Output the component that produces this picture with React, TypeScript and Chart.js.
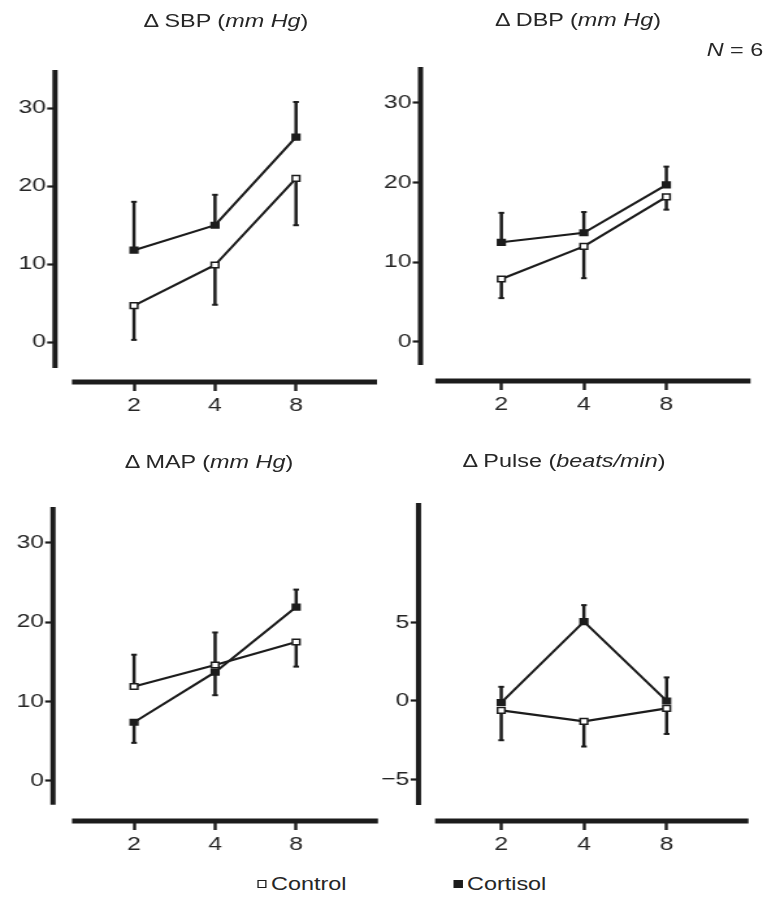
import { useEffect, useRef } from 'react';
import { Chart, registerables } from 'chart.js';

Chart.register(...registerables);

// ---------- data ----------
const doseLabels = ['2', '4', '8'];
const bpTicks = [0, 10, 20, 30];
const pulseTicks = [-5, 0, 5];
const seriesNames = ['Control', 'Cortisol'];

const sbpControl = [4.7, 9.9, 21.0];
const sbpControlErr = [0.3, 4.8, 15.0];
const sbpCortisol = [11.8, 15.0, 26.3];
const sbpCortisolErr = [18.0, 18.9, 30.8];

const dbpControl = [7.9, 12.0, 18.2];
const dbpControlErr = [5.5, 8.0, 16.6];
const dbpCortisol = [12.5, 13.7, 19.7];
const dbpCortisolErr = [16.2, 16.3, 22.0];

const mapControl = [11.9, 14.6, 17.5];
const mapControlErr = [15.9, 18.7, 14.4];
const mapCortisol = [7.4, 13.7, 21.9];
const mapCortisolErr = [4.8, 10.8, 24.1];

const pulseControl = [-0.6, -1.3, -0.47];
const pulseControlErr = [-2.5, -2.9, -2.1];
const pulseCortisol = [-0.1, 5.05, 0.0];
const pulseCortisolErr = [0.9, 6.1, 1.5];

// ---------- style / layout ----------
const SX = 1.3; // horizontal stretch of the whole figure
const INK = '#1c1c1c';
const TEXT = '#262626';
const FONT = '"Liberation Sans", Arial, Helvetica, sans-serif';
const TICK_SIZE = 19;
const XH = 42;

type Layout = {
  box: { x: number; y: number; w: number; h: number };
  axisX: number; plotTop: number; plotBottom: number; plotRight: number;
  xMin: number; xMax: number; xLine: number;
  yMin: number; yMax: number; yLine: number;
  titleX: number; titleY: number;
};

type Panel = {
  key: string; title: string; unit: string; ticks: number[];
  control: number[]; controlErr: number[]; cortisol: number[]; cortisolErr: number[];
  layout: Layout;
};

const panels: Panel[] = [
  {
    key: 'sbp', title: 'Δ SBP', unit: 'mm Hg', ticks: bpTicks,
    control: sbpControl, controlErr: sbpControlErr, cortisol: sbpCortisol, cortisolErr: sbpCortisolErr,
    layout: {
      box: { x: 0, y: 0, w: 390, h: 430 }, axisX: 55, plotTop: 70, plotBottom: 382, plotRight: 377,
      xMin: -0.975, xMax: 3.0, xLine: -0.765, yMin: -5.1, yMax: 34.9, yLine: -3.3, titleX: 226, titleY: 21,
    },
  },
  {
    key: 'dbp', title: 'Δ DBP', unit: 'mm Hg', ticks: bpTicks,
    control: dbpControl, controlErr: dbpControlErr, cortisol: dbpCortisol, cortisolErr: dbpCortisolErr,
    layout: {
      box: { x: 370, y: 0, w: 403, h: 430 }, axisX: 420, plotTop: 67, plotBottom: 381, plotRight: 750,
      xMin: -0.98, xMax: 3.02, xLine: -0.8, yMin: -4.9, yMax: 34.5, yLine: -2.9, titleX: 578, titleY: 20,
    },
  },
  {
    key: 'map', title: 'Δ MAP', unit: 'mm Hg', ticks: bpTicks,
    control: mapControl, controlErr: mapControlErr, cortisol: mapCortisol, cortisolErr: mapCortisolErr,
    layout: {
      box: { x: 0, y: 440, w: 390, h: 430 }, axisX: 53, plotTop: 507, plotBottom: 821, plotRight: 378,
      xMin: -1.0, xMax: 3.01, xLine: -0.765, yMin: -5.04, yMax: 34.5, yLine: -3.0, titleX: 209, titleY: 462,
    },
  },
  {
    key: 'pulse', title: 'Δ Pulse', unit: 'beats/min', ticks: pulseTicks,
    control: pulseControl, controlErr: pulseControlErr, cortisol: pulseCortisol, cortisolErr: pulseCortisolErr,
    layout: {
      box: { x: 370, y: 440, w: 403, h: 430 }, axisX: 418, plotTop: 503, plotBottom: 821, plotRight: 748,
      xMin: -1.0, xMax: 2.99, xLine: -0.8, yMin: -7.64, yMax: 12.6, yLine: -6.62, titleX: 564, titleY: 461,
    },
  },
];

// ---------- plugins ----------
const axisLines = {
  id: 'axisLines',
  beforeDatasetsDraw(chart: any, _args: any, opts: any) {
    const { ctx, chartArea, scales } = chart;
    ctx.save();
    ctx.strokeStyle = INK;
    ctx.lineCap = 'butt';
    // y axis
    ctx.lineWidth = 4;
    ctx.beginPath();
    ctx.moveTo(chartArea.left, chartArea.top);
    ctx.lineTo(chartArea.left, scales.y.getPixelForValue(opts.yEnd));
    ctx.stroke();
    // x axis
    ctx.lineWidth = 5;
    ctx.beginPath();
    ctx.moveTo(scales.x.getPixelForValue(opts.xStart), chartArea.bottom);
    ctx.lineTo(chartArea.right, chartArea.bottom);
    ctx.stroke();
    ctx.restore();
  },
};

const errorBars = {
  id: 'errorBars',
  beforeDatasetsDraw(chart: any) {
    const { ctx, scales } = chart;
    ctx.save();
    ctx.strokeStyle = INK;
    chart.data.datasets.forEach((ds: any, i: number) => {
      const meta = chart.getDatasetMeta(i);
      meta.data.forEach((pt: any, j: number) => {
        const yEnd = scales.y.getPixelForValue(ds.errEnds[j]);
        ctx.lineWidth = 2.5;
        ctx.beginPath();
        ctx.moveTo(pt.x, pt.y);
        ctx.lineTo(pt.x, yEnd);
        ctx.stroke();
        ctx.lineWidth = 2;
        ctx.beginPath();
        ctx.moveTo(pt.x - 2.2, yEnd);
        ctx.lineTo(pt.x + 2.2, yEnd);
        ctx.stroke();
      });
    });
    ctx.restore();
  },
};

const fmtTick = (v: number) => (v < 0 ? '−' + Math.abs(v) : String(v));

function PanelChart({ p }: { p: Panel }) {
  const ref = useRef<HTMLCanvasElement>(null);
  const L = p.layout;
  const wU = Math.round(L.box.w / SX);
  const h = L.box.h;

  useEffect(() => {
    const plotLeftU = (L.axisX - L.box.x) / SX;
    const plotRightU = (L.plotRight - L.box.x) / SX;
    const padTop = L.plotTop - L.box.y;
    const padBottom = h - (L.plotBottom - L.box.y) - XH;
    const mk = (vals: number[]) => doseLabels.map((_, i) => ({ x: i, y: vals[i] }));
    const chart = new Chart(ref.current as HTMLCanvasElement, {
      type: 'line',
      data: {
        datasets: [
          {
            label: seriesNames[0], data: mk(p.control), errEnds: p.controlErr,
            borderColor: INK, borderWidth: 2.1, tension: 0, fill: false,
            pointStyle: 'rect', pointRadius: 4, pointBackgroundColor: '#ffffff',
            pointBorderColor: INK, pointBorderWidth: 1.5,
          } as any,
          {
            label: seriesNames[1], data: mk(p.cortisol), errEnds: p.cortisolErr,
            borderColor: INK, borderWidth: 2.1, tension: 0, fill: false,
            pointStyle: 'rect', pointRadius: 4, pointBackgroundColor: INK,
            pointBorderColor: INK, pointBorderWidth: 1.5,
          } as any,
        ],
      },
      options: {
        animation: false,
        responsive: false,
        maintainAspectRatio: false,
        events: [],
        layout: { padding: { left: 0, top: padTop, right: wU - plotRightU, bottom: padBottom } },
        plugins: {
          legend: { display: false },
          tooltip: { enabled: false },
          title: { display: false },
          axisLines: { xStart: L.xLine, yEnd: L.yLine },
        } as any,
        scales: {
          x: {
            type: 'linear', min: L.xMin, max: L.xMax,
            afterFit: (s: any) => { s.height = XH; },
            afterBuildTicks: (s: any) => { s.ticks = doseLabels.map((_, i) => ({ value: i })); },
            ticks: {
              callback: (v: any) => doseLabels[v] ?? '',
              font: { family: FONT, size: TICK_SIZE }, color: TEXT, padding: 3,
              maxRotation: 0, autoSkip: false,
            },
            grid: { display: true, drawOnChartArea: false, drawTicks: true, tickLength: 9, tickWidth: 2.4, tickColor: INK },
            border: { display: false },
          },
          y: {
            type: 'linear', min: L.yMin, max: L.yMax,
            afterFit: (s: any) => { s.width = plotLeftU; },
            afterBuildTicks: (s: any) => { s.ticks = p.ticks.map((v) => ({ value: v })); },
            ticks: {
              callback: (v: any) => fmtTick(Number(v)),
              font: { family: FONT, size: TICK_SIZE }, color: TEXT, padding: 1,
            },
            grid: { display: true, drawOnChartArea: false, drawTicks: true, tickLength: 6, tickWidth: 2.2, tickColor: INK },
            border: { display: false },
          },
        } as any,
      },
      plugins: [axisLines, errorBars],
    });
    return () => chart.destroy();
  }, []);

  return (
    <canvas
      ref={ref}
      width={wU}
      height={h}
      style={{ position: 'absolute', left: L.box.x / SX, top: L.box.y, width: wU, height: h }}
    />
  );
}

function Label({ cx, cy, children, size = 18 }: any) {
  return (
    <div
      style={{
        position: 'absolute', left: cx / SX - 150, width: 300, top: cy - 12, height: 24,
        lineHeight: '24px', textAlign: 'center', fontSize: size, color: TEXT, whiteSpace: 'nowrap',
      }}
    >
      {children}
    </div>
  );
}

export default function App() {
  return (
    <div
      style={{
        position: 'absolute', left: 0, top: 0, width: 773 / SX, height: 907,
        transform: `scaleX(${SX})`, transformOrigin: '0 0', fontFamily: FONT, background: '#ffffff',
      }}
    >
      {panels.map((p) => (
        <PanelChart key={p.key} p={p} />
      ))}
      {panels.map((p) => (
        <Label key={p.key + '-t'} cx={p.layout.titleX} cy={p.layout.titleY}>
          {p.title} (<i>{p.unit}</i>)
        </Label>
      ))}
      <Label cx={735} cy={50} size={18}>
        <i>N</i> = 6
      </Label>
      <div style={{ position: 'absolute', left: 258 / SX, top: 872, height: 24, lineHeight: '24px', fontSize: 18, color: TEXT, whiteSpace: 'nowrap' }}>
        <span style={{ display: 'inline-block', width: 5, height: 6, border: `1.2px solid ${INK}`, background: '#fff', marginRight: 3, verticalAlign: 'middle', position: 'relative', top: -1 }} />
        {seriesNames[0]}
      </div>
      <div style={{ position: 'absolute', left: 454 / SX, top: 872, height: 24, lineHeight: '24px', fontSize: 18, color: TEXT, whiteSpace: 'nowrap' }}>
        <span style={{ display: 'inline-block', width: 5, height: 6, border: `1.2px solid ${INK}`, background: INK, marginRight: 3, verticalAlign: 'middle', position: 'relative', top: -1 }} />
        {seriesNames[1]}
      </div>
    </div>
  );
}
